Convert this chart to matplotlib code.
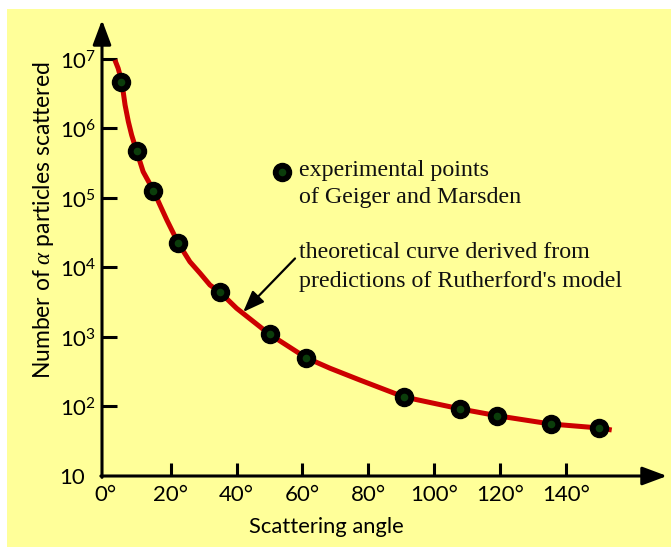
import matplotlib
matplotlib.use("Agg")
import matplotlib.pyplot as plt
from matplotlib.patches import Rectangle

plt.rcParams['font.family'] = ['Lato', 'DejaVu Sans']
plt.rcParams['mathtext.fontset'] = 'custom'
plt.rcParams['mathtext.rm'] = 'Lato'
plt.rcParams['mathtext.it'] = 'Liberation Serif:italic'

# ---- data ----
point_angles = [5, 9.6, 14.7, 22.3, 35, 50, 61, 91, 108, 119, 135.5, 150]
point_counts = [4.7e6, 4.7e5, 1.27e5, 2.25e4, 4.4e3, 1.1e3, 5.0e2, 137, 92, 74, 56, 49]

curve_angles = [3.0, 4.0, 5.1, 6.1, 7.1, 8.1, 9.6, 11.6, 14.7, 16.7, 18.8, 22.3, 25.8,
                28.9, 31.9, 35.0, 40.0, 49.9, 61.1, 68.4, 77.5, 90.9, 108.1, 119.1,
                135.5, 150.2, 154.0]
curve_log = [6.986, 6.866, 6.673, 6.338, 6.098, 5.906, 5.676, 5.378, 5.111, 4.899,
             4.683, 4.348, 4.083, 3.917, 3.748, 3.643, 3.413, 3.043, 2.702, 2.550,
             2.38, 2.137, 1.964, 1.868, 1.748, 1.691, 1.662]
curve_counts = [10 ** v for v in curve_log]

x_ticks = [0, 20, 40, 60, 80, 100, 120, 140]
x_tick_labels = ['0°', '20°', '40°', '60°', '80°', '100°', '120°', '140°']
y_ticks = [10, 1e2, 1e3, 1e4, 1e5, 1e6, 1e7]
y_tick_labels = ['10', r'$10^{2}$', r'$10^{3}$', r'$10^{4}$', r'$10^{5}$', r'$10^{6}$', r'$10^{7}$']

W, H = 671, 547
fig = plt.figure(figsize=(W / 100, H / 100), dpi=100)
fig.patch.set_facecolor('white')
fig.patches.append(Rectangle((7 / W, 0), 1 - 7 / W, (H - 9) / H, transform=fig.transFigure,
                             facecolor='#FFFF99', edgecolor='none', zorder=-10))

ax = fig.add_axes([102 / W, (H - 476) / H, (667 - 102) / W, (476 - 20) / H])
ax.set_facecolor('none')
ax.set_yscale('log')
ax.set_xlim(-0.91, 170.8)
ax.set_ylim(10, 10 ** 7.561)
for s in ax.spines.values():
    s.set_visible(False)

# axes with arrows
arrow_kw = dict(arrowstyle='-|>,head_length=0.75,head_width=0.28', lw=2.2, color='black',
                shrinkA=0, shrinkB=0, mutation_scale=20)
ax.annotate('', xy=(1, 0), xytext=(-0.002, 0), xycoords='axes fraction', arrowprops=arrow_kw)
ax.annotate('', xy=(0, 1), xytext=(0, -0.003), xycoords='axes fraction', arrowprops=arrow_kw)

ax.set_xticks(x_ticks)
ax.set_xticklabels(x_tick_labels, fontsize=16)
ax.set_yticks(y_ticks)
ax.set_yticklabels(y_tick_labels, fontsize=16)
ax.minorticks_off()
ax.yaxis.set_minor_locator(matplotlib.ticker.NullLocator())
ax.tick_params(axis='x', direction='in', length=9.5, width=2.2, pad=6.5, colors='black')
ax.tick_params(axis='y', direction='in', length=10.8, width=2.2, pad=30.5, colors='black')
for lab in ax.get_yticklabels():
    lab.set_horizontalalignment('left')
ax.xaxis.get_major_ticks()[0].tick1line.set_visible(False)
ax.yaxis.get_major_ticks()[0].tick1line.set_visible(False)

# curve and points
ax.plot(curve_angles, curve_counts, color='#CC0000', lw=3.6, solid_capstyle='butt',
        solid_joinstyle='round', zorder=3)
ax.plot(point_angles, point_counts, 'o', ms=13, color='black', zorder=4)
ax.plot(point_angles, point_counts, 'o', ms=5.5, color='#0B3D0B', mec='none', zorder=5)

# legend-like annotations
ax.plot([53.9], [10 ** 5.37], 'o', ms=13, color='black', zorder=4)
ax.plot([53.9], [10 ** 5.37], 'o', ms=5.5, color='#0B3D0B', mec='none', zorder=5)
serif = dict(family='Liberation Serif', fontsize=17.3, color='#111111', va='baseline', ha='left')
ax.text(59.1, 10 ** 5.317, 'experimental points', **serif)
ax.text(59.1, 10 ** 4.928, 'of Geiger and Marsden', **serif)
ax.text(59.1, 10 ** 4.137, 'theoretical curve derived from', **serif)
ax.text(59.1, 10 ** 3.719, "predictions of Rutherford's model", **serif)
ax.annotate('', xy=(42.0, 10 ** 3.36), xytext=(57.75, 10 ** 4.13),
            arrowprops=dict(arrowstyle='-|>,head_length=0.65,head_width=0.25', lw=1.6,
                            color='black', shrinkA=0, shrinkB=0, mutation_scale=20))

fig.text(326 / W, 1 - 527 / H, 'Scattering angle', fontsize=15.8, ha='center', va='center')
fig.text(44 / W, 1 - 220 / H, r'Number of $\alpha$ particles scattered', fontsize=16.5,
         rotation=90, ha='center', va='center')

fig.savefig('out.png', dpi=100, facecolor='white')
